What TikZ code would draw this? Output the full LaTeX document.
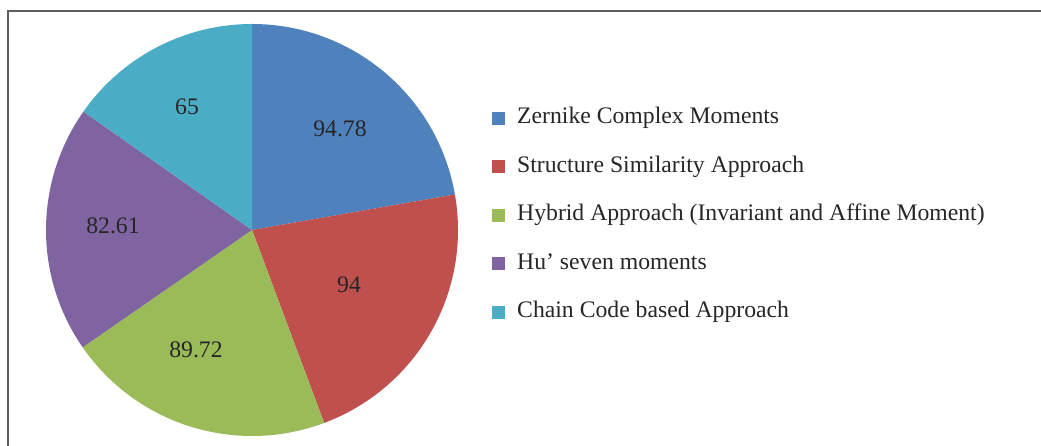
\documentclass[tikz,border=0pt]{standalone}
\usepackage{fontspec}
\setmainfont{Liberation Serif}
\definecolor{cZern}{HTML}{4F81BD}
\definecolor{cStruct}{HTML}{C0504D}
\definecolor{cHybrid}{HTML}{9BBB59}
\definecolor{cHu}{HTML}{8064A2}
\definecolor{cChain}{HTML}{4BACC6}
\definecolor{frameGray}{HTML}{5F5F5F}
\definecolor{txt}{HTML}{262626}
\tikzset{
  framepath/.style={draw=frameGray, line width=1.8pt},
  vallabel/.style={text=txt, font=\fontsize{23.7}{28}\selectfont, inner sep=0pt},
  legsquare/.style={minimum size=13pt, inner sep=0pt},
  legtext/.style={text=txt, font=\fontsize{23.7}{28}\selectfont, inner sep=0pt, anchor=base west},
}
\begin{document}
\begin{tikzpicture}[x=1pt,y=1pt]
\useasboundingbox (0,0) rectangle (1041,446);
\clip (0,0) rectangle (1041,446);
% outer frame (only top and left edges fall inside the page)
\draw[framepath] (8,-20) -- (8,435) -- (1060,435);

% pie slices, clockwise from the top
\coordinate (c) at (252,216);
\def\R{206}
\fill[cZern]   (c) -- ++(90:\R)     arc[start angle=90,     end angle=9.93,    radius=\R] -- cycle;
\fill[cStruct] (c) -- ++(9.93:\R)   arc[start angle=9.93,   end angle=-69.49,  radius=\R] -- cycle;
\fill[cHybrid] (c) -- ++(-69.49:\R) arc[start angle=-69.49, end angle=-145.29, radius=\R] -- cycle;
\fill[cHu]     (c) -- ++(-145.29:\R) arc[start angle=-145.29, end angle=-215.08, radius=\R] -- cycle;
\fill[cChain]  (c) -- ++(144.92:\R) arc[start angle=144.92, end angle=90,      radius=\R] -- cycle;

% slice values
\node[vallabel] (vZern)   at (340,317) {94.78};
\node[vallabel] (vStruct) at (349,161) {94};
\node[vallabel] (vHybrid) at (196,96)  {89.72};
\node[vallabel] (vHu)     at (113,220) {82.61};
\node[vallabel] (vChain)  at (187,339) {65};

% legend
\node[legsquare, fill=cZern]   (sZern)   at (498,327.5) {};
\node[legsquare, fill=cStruct] (sStruct) at (498,279.1) {};
\node[legsquare, fill=cHybrid] (sHybrid) at (498,230.7) {};
\node[legsquare, fill=cHu]     (sHu)     at (498,182.3) {};
\node[legsquare, fill=cChain]  (sChain)  at (498,133.9) {};
\node[legtext] (tZern)   at (517,322.0) {Zernike Complex Moments};
\node[legtext] (tStruct) at (517,273.6) {Structure Similarity Approach};
\node[legtext] (tHybrid) at (517,225.2) {Hybrid Approach (Invariant and Affine Moment)};
\node[legtext] (tHu)     at (517,176.8) {Hu’ seven moments};
\node[legtext] (tChain)  at (517,128.4) {Chain Code based Approach};
\end{tikzpicture}
\end{document}
